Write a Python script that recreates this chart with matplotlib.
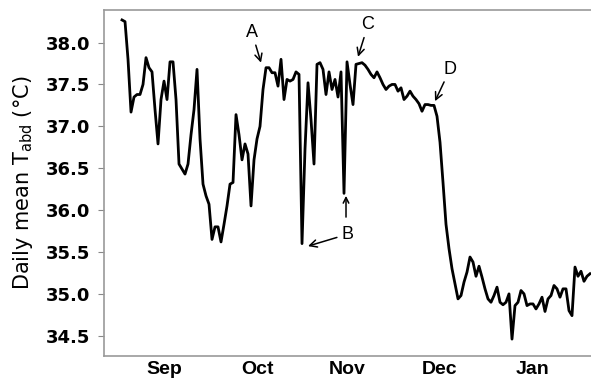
import numpy as np
import pandas as pd
import matplotlib.pyplot as plt
import matplotlib.dates as mdates

### Data, one value per day from 1 Sep

start_date = '2011-09-01'
tabd = [
    38.27, 38.25, 37.80, 37.17, 37.35, 37.38, 37.38, 37.50, 37.82, 37.70,
    37.65, 37.20, 36.79, 37.32, 37.54, 37.32, 37.77, 37.77, 37.32, 36.55,
    36.49, 36.43, 36.55, 36.90, 37.20, 37.68, 36.85, 36.31, 36.17, 36.07,
    35.65, 35.80, 35.80, 35.62, 35.83, 36.05, 36.31, 36.33, 37.14, 36.90,
    36.60, 36.79, 36.67, 36.05, 36.60, 36.85, 37.00, 37.44, 37.70, 37.70,
    37.64, 37.64, 37.48, 37.80, 37.32, 37.56, 37.54, 37.56, 37.65, 37.62,
    35.60, 36.73, 37.52, 37.08, 36.55, 37.74, 37.76, 37.68, 37.38, 37.65,
    37.44, 37.56, 37.35, 37.65, 36.20, 37.77, 37.50, 37.26, 37.74, 37.75,
    37.76, 37.73, 37.68, 37.62, 37.58, 37.65, 37.58, 37.50, 37.44, 37.48,
    37.50, 37.50, 37.42, 37.46, 37.32, 37.36, 37.42, 37.36, 37.32, 37.27,
    37.18, 37.26, 37.26, 37.25, 37.25, 37.12, 36.81, 36.33, 35.83, 35.54,
    35.30, 35.12, 34.94, 34.98, 35.14, 35.26, 35.44, 35.38, 35.21, 35.33,
    35.20, 35.06, 34.94, 34.90, 34.98, 35.08, 34.90, 34.87, 34.90, 35.00,
    34.46, 34.86, 34.90, 35.04, 35.00, 34.86, 34.88, 34.88, 34.82, 34.88,
    34.96, 34.79, 34.94, 34.98, 35.10, 35.06, 34.96, 35.06, 35.06, 34.80,
    34.74, 35.32, 35.21, 35.27, 35.15, 35.21, 35.24,
]
dates = pd.date_range(start_date, periods=len(tabd), freq='D')

month_labels = ['Sep', 'Oct', 'Nov', 'Dec', 'Jan']
month_ticks = pd.to_datetime(['2011-09-15', '2011-10-16', '2011-11-15',
                              '2011-12-16', '2012-01-16'])
y_ticks = [34.5, 35.0, 35.5, 36.0, 36.5, 37.0, 37.5, 38.0]

# annotation labels: (text, text position, arrow tip)
annotations = [
    ('A', ('2011-10-14 08:00', 38.12), ('2011-10-17 08:00', 37.76)),
    ('C', ('2011-11-22', 38.21), ('2011-11-18 16:00', 37.83)),
    ('D', ('2011-12-19 08:00', 37.68), ('2011-12-14 08:00', 37.30)),
    ('B', ('2011-11-15', 35.71), ('2011-11-02', 35.57)),
]
b_second_tip = ('2011-11-14 16:00', 36.17)

### Plotting

fig = plt.figure(figsize=(5.91, 3.81), dpi=100)
ax = fig.add_axes([0.176, 0.066, 0.824, 0.908])

ax.plot(dates, tabd, color='black', lw=2.0)

ax.set_xlim(pd.Timestamp('2011-08-26'), pd.Timestamp('2012-02-04 08:00'))
ax.set_ylim(34.26, 38.39)

ax.set_yticks(y_ticks)
ax.set_yticklabels([f'{v:.1f}' for v in y_ticks],
                   fontfamily='DejaVu Sans', fontweight='bold', fontsize=13)
ax.set_xticks(month_ticks)
ax.set_xticklabels(month_labels, fontfamily='Liberation Sans',
                   fontweight='bold', fontsize=14)
ax.tick_params(axis='y', direction='out', length=4, width=0.8,
               color='#888888', pad=6)
ax.tick_params(axis='x', length=0, pad=4)

for side in ['left', 'bottom', 'top']:
    ax.spines[side].set_color('#999999')
    ax.spines[side].set_linewidth(1.2)
ax.spines['right'].set_visible(False)

ax.set_ylabel('Daily mean T$_{\\mathrm{abd}}$ (°C)', fontfamily='DejaVu Sans',
              fontsize=15, labelpad=8)

arrow = dict(arrowstyle='->', color='black', lw=1.1, shrinkA=1, shrinkB=0)
for label, text_pos, tip in annotations:
    ax.annotate(label, xy=(pd.Timestamp(tip[0]), tip[1]),
                xytext=(pd.Timestamp(text_pos[0]), text_pos[1]),
                ha='center', va='center', fontfamily='Liberation Sans',
                fontsize=13, arrowprops=arrow)
ax.annotate('', xy=(pd.Timestamp(b_second_tip[0]), b_second_tip[1]),
            xytext=(pd.Timestamp(b_second_tip[0]), 35.90),
            arrowprops=arrow)

plt.savefig('out.png', dpi=100)
